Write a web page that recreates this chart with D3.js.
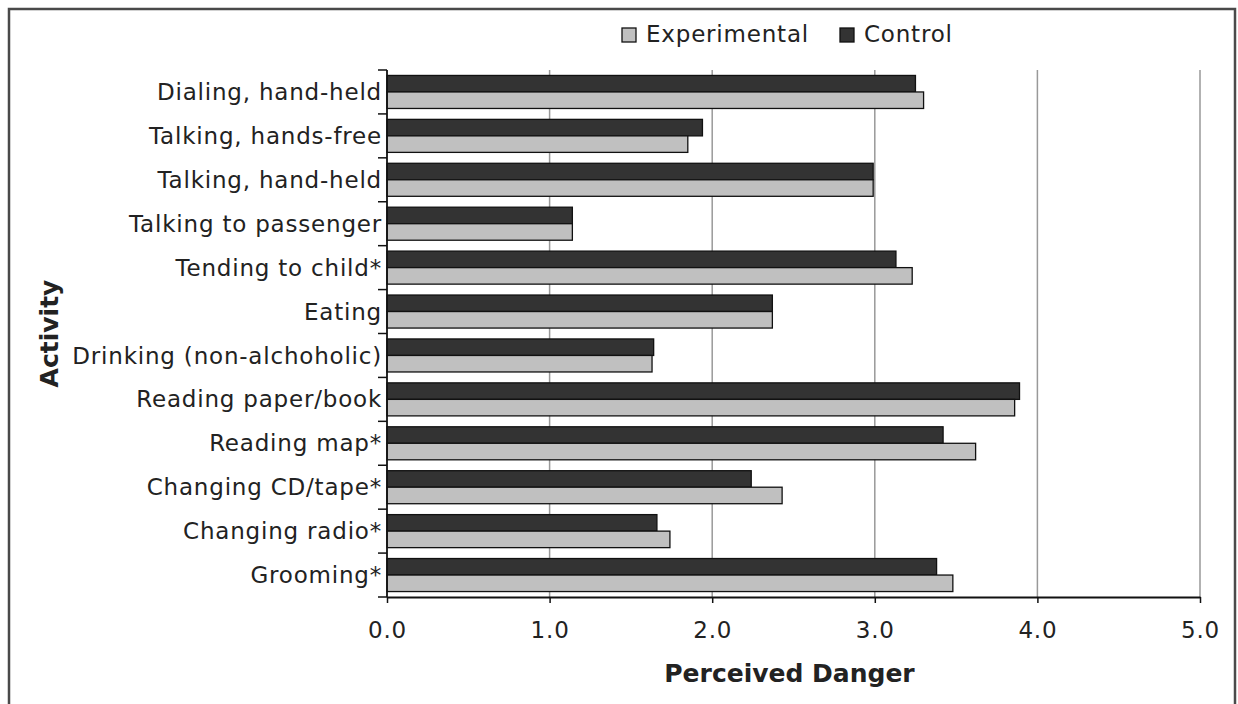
<!DOCTYPE html>
<html>
<head>
<meta charset="utf-8">
<script src="https://cdn.jsdelivr.net/npm/d3@7"></script>
<style>
html,body{margin:0;padding:0;background:#fff;}
svg{display:block;font-family:"DejaVu Sans",Verdana,sans-serif;}
</style>
</head>
<body>
<svg id="chart" width="1238" height="704"></svg>
<script>
const categories = ["Dialing, hand-held","Talking, hands-free","Talking, hand-held","Talking to passenger","Tending to child*","Eating","Drinking (non-alchoholic)","Reading paper/book","Reading map*","Changing CD/tape*","Changing radio*","Grooming*"];
const controlValues = [3.25,1.94,2.99,1.14,3.13,2.37,1.64,3.89,3.42,2.24,1.66,3.38];
const experimentalValues = [3.30,1.85,2.99,1.14,3.23,2.37,1.63,3.86,3.62,2.43,1.74,3.48];
const seriesNames = ["Control","Experimental"];
const legendOrder = ["Experimental","Control"];
const xTicks = [0,1,2,3,4,5];
const xTitle = "Perceived Danger";
const yTitle = "Activity";

const colors = {"Control":"#333333","Experimental":"#c0c0c0"};
const svg = d3.select("#chart");
const W = 1238, H = 704;
const plot = {left:387, right:1200, top:70, bottom:597};
const LS = "0.8px";

// outer frame
svg.append("rect").attr("x",9).attr("y",9).attr("width",1226).attr("height",H)
  .attr("fill","none").attr("stroke","#4a4a4a").attr("stroke-width",2.5);

const x = d3.scaleLinear().domain([0,5]).range([plot.left,plot.right]);
const y = d3.scaleBand().domain(categories).range([plot.top,plot.bottom]).padding(0);
const ys = d3.scaleBand().domain(seriesNames).range([0,y.bandwidth()]).paddingInner(0).paddingOuter(0.33);

// gridlines
svg.append("g").selectAll("line").data(xTicks.filter(d=>d>0)).join("line")
  .attr("x1",d=>x(d)).attr("x2",d=>x(d)).attr("y1",plot.top).attr("y2",plot.bottom)
  .attr("stroke","#999").attr("stroke-width",1.5);

// bars
const rows = categories.map((c,i)=>({cat:c, vals:[{s:"Control",v:controlValues[i]},{s:"Experimental",v:experimentalValues[i]}]}));
const g = svg.append("g");
g.selectAll("g").data(rows).join("g")
  .attr("transform",d=>`translate(0,${y(d.cat)})`)
  .selectAll("rect").data(d=>d.vals).join("rect")
  .attr("x",x(0)).attr("y",d=>ys(d.s)).attr("width",d=>x(d.v)-x(0)).attr("height",ys.bandwidth())
  .attr("fill",d=>colors[d.s]).attr("stroke","#111").attr("stroke-width",1.3);

// x axis
const xAxis = d3.axisBottom(x).tickValues(xTicks).tickFormat(d3.format(".1f")).tickSizeInner(6).tickSizeOuter(0).tickPadding(19);
const gx = svg.append("g").attr("transform",`translate(0,${plot.bottom})`).call(xAxis);
gx.select(".domain").attr("stroke","#111").attr("stroke-width",1.8);
gx.selectAll(".tick line").attr("stroke","#111").attr("stroke-width",1.5);
gx.selectAll(".tick text").attr("font-size",23).attr("fill","#222").attr("font-family","DejaVu Sans").style("letter-spacing",LS);

// y axis
const yAxis = d3.axisLeft(y).tickSize(0).tickPadding(5);
const gy = svg.append("g").attr("transform",`translate(${plot.left},0)`).call(yAxis);
gy.select(".domain").attr("stroke","#111").attr("stroke-width",1.8).attr("d",`M0,${plot.top}V${plot.bottom}`);
gy.selectAll(".tick text").attr("font-size",23).attr("fill","#222").attr("font-family","DejaVu Sans").attr("dy","0.35em").style("letter-spacing",LS);
const bounds = categories.map(c=>y(c)).concat([y.range()[1]]);
gy.selectAll("line.bound").data(bounds).join("line").attr("class","bound")
  .attr("x1",-9).attr("x2",0).attr("y1",d=>d).attr("y2",d=>d).attr("stroke","#111").attr("stroke-width",1.5);

// titles
svg.append("text").attr("x",(plot.left+plot.right)/2 - 4).attr("y",682).attr("text-anchor","middle")
  .attr("font-size",25).attr("font-weight","bold").attr("fill","#222").text(xTitle);
svg.append("text").attr("transform",`translate(58,${(plot.top+plot.bottom)/2}) rotate(-90)`).attr("text-anchor","middle")
  .attr("font-size",25).attr("font-weight","bold").attr("fill","#222").text(yTitle);

// legend
const legendPos = {"Experimental":622,"Control":840};
const lg = svg.append("g");
legendOrder.forEach(s=>{
  lg.append("rect").attr("x",legendPos[s]).attr("y",28).attr("width",14).attr("height",14)
    .attr("fill",colors[s]).attr("stroke","#111").attr("stroke-width",1.3);
  lg.append("text").attr("x",legendPos[s]+24).attr("y",42).attr("font-size",23).attr("fill","#222").style("letter-spacing",LS).text(s);
});
</script>
</body>
</html>
